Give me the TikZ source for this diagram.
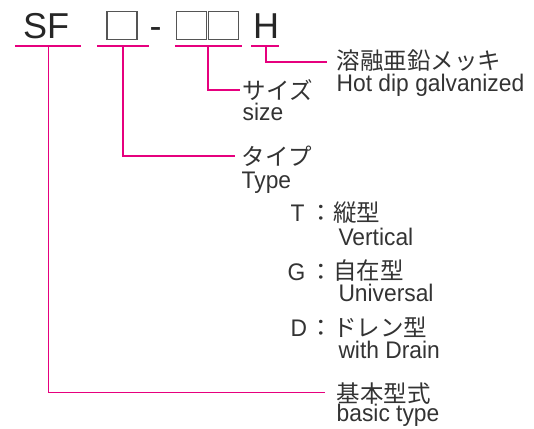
\documentclass[tikz,border=0pt]{standalone}
\usepackage{fontspec}
\setmainfont{Liberation Sans}[FakeStretch=0.95]
\newfontfamily\bigsans{Liberation Sans}
\newfontfamily\jp{Noto Sans CJK JP}
\definecolor{mag}{RGB}{230,0,126}
\definecolor{txt}{RGB}{51,51,51}
\definecolor{boxgray}{RGB}{85,85,85}
\begin{document}
\begin{tikzpicture}[x=1pt,y=-1pt,
  lat/.style={anchor=base west,inner sep=0pt,text=txt,font=\fontsize{24}{24}\selectfont},
  jpl/.style={anchor=base west,inner sep=0pt,text depth=1pt,text=txt,font=\jp\fontsize{23.5}{24}\selectfont},
  big/.style={anchor=base west,inner sep=0pt,text=black!85,font=\bigsans\fontsize{36}{36}\selectfont},
  sq/.style={draw=boxgray,line width=1.3pt,inner sep=0pt,minimum width=30pt,minimum height=28pt},
  uline/.style={draw=mag,line width=1.6pt},
  conn/.style={draw=mag,line width=1.6pt}]
\useasboundingbox (0,0) rectangle (534,428);
% code letters
\node[big] (sf) at (23,38.5) {SF};
\node[sq] (b1) at (122,25.8) {};
\node[big,anchor=base] (hy) at (155.5,38.5) {-};
\node[sq] (b2) at (191.5,25.8) {};
\node[sq] (b3) at (223.5,25.8) {};
\node[big] (h) at (253,38.5) {H};
% underlines
\coordinate (sfL) at (15,46); \coordinate (sfR) at (81,46); \coordinate (sfM) at (48.3,46);
\coordinate (t1L) at (97,46); \coordinate (t1R) at (149,46); \coordinate (t1M) at (123,46);
\coordinate (t2L) at (175,46); \coordinate (t2R) at (242,46); \coordinate (t2M) at (208,46);
\coordinate (hL) at (251,46); \coordinate (hR) at (279,46); \coordinate (hM) at (265.7,46);
\draw[uline] (sfL) -- (sfR);
\draw[uline] (t1L) -- (t1R);
\draw[uline] (t2L) -- (t2R);
\draw[uline] (hL) -- (hR);
% line ends
\coordinate (eH) at (326.7,61.7);
\coordinate (eS) at (240,90);
\coordinate (eT) at (235,155.7);
\coordinate (eB) at (325,392.3);
\draw[conn] (hM) |- (eH);
\draw[conn] (t2M) |- (eS);
\draw[conn] (t1M) |- (eT);
\draw[conn] (sfM) |- (eB);
% labels
\node[jpl] (lh1) at (336.5,69.8) {溶融亜鉛メッキ};
\node[lat] (lh2) at (336.5,91.7) {Hot dip galvanized};
\node[jpl] (ls1) at (242.5,99.5) {サイズ};
\node[lat] (ls2) at (242.5,120) {size};
\node[jpl] (lt1) at (241.5,165.5) {タイプ};
\node[lat] (lt2) at (241.5,188.3) {Type};
% types
\node[lat] (tT) at (290.5,221.7) {T};
\node[jpl,anchor=base] (cT) at (321.7,221.7) {：};
\node[jpl] (jT) at (333,221.7) {縦型};
\node[lat] (eTT) at (338.3,245) {Vertical};
\node[lat] (tG) at (287.5,280) {G};
\node[jpl,anchor=base] (cG) at (321.7,280) {：};
\node[jpl] (jG) at (333,279) {自在型};
\node[lat] (eG) at (338.3,301.5) {Universal};
\node[lat] (tD) at (290.5,336.7) {D};
\node[jpl,anchor=base] (cD) at (321.7,336.7) {：};
\node[jpl] (jD) at (333,336.7) {ドレン型};
\node[lat] (eD) at (338.3,358.3) {with Drain};
\node[jpl] (lb1) at (336.5,402) {基本型式};
\node[lat] (lb2) at (336.5,421.7) {basic type};
\end{tikzpicture}
\end{document}
